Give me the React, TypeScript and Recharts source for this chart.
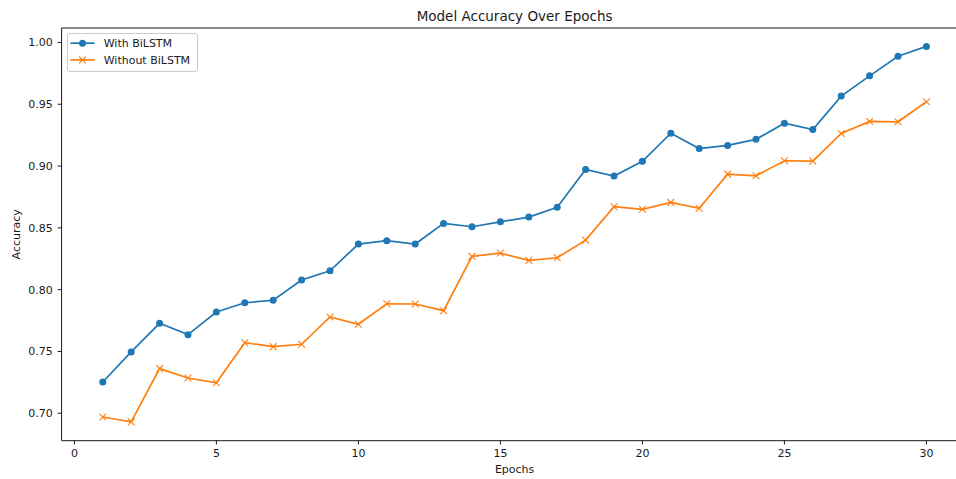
import React from 'react';
import { LineChart, Line, XAxis, YAxis, Legend, ReferenceLine } from 'recharts';

const epochs = [1, 2, 3, 4, 5, 6, 7, 8, 9, 10, 11, 12, 13, 14, 15, 16, 17, 18, 19, 20, 21, 22, 23, 24, 25, 26, 27, 28, 29, 30];
const withBiLSTM = [0.7253, 0.7496, 0.7728, 0.7636, 0.7819, 0.7894, 0.7914, 0.8078, 0.8153, 0.8369, 0.8396, 0.8369, 0.8536, 0.8509, 0.8549, 0.8587, 0.8666, 0.8973, 0.8919, 0.9038, 0.9266, 0.9142, 0.9167, 0.9216, 0.9347, 0.9296, 0.9566, 0.973, 0.9889, 0.9968];
const withoutBiLSTM = [0.697, 0.693, 0.7361, 0.7285, 0.7247, 0.7571, 0.7539, 0.7558, 0.7779, 0.772, 0.7886, 0.7884, 0.783, 0.8269, 0.8296, 0.8237, 0.8258, 0.8401, 0.8671, 0.865, 0.8706, 0.8658, 0.8935, 0.8921, 0.9043, 0.904, 0.9264, 0.9361, 0.9358, 0.952];
const xTicks = [0, 5, 10, 15, 20, 25, 30];
const yTicks = [0.7, 0.75, 0.8, 0.85, 0.9, 0.95, 1.0];
const seriesNames = ['With BiLSTM', 'Without BiLSTM'];
const chartTitle = 'Model Accuracy Over Epochs';
const xLabel = 'Epochs';
const yLabel = 'Accuracy';

const BLUE = '#1f77b4';
const ORANGE = '#ff7f0e';
const FONT = "'DejaVu Sans', sans-serif";
const TEXT = '#1a1a1a';
const FS = 11;
const X_DOMAIN: [number, number] = [-0.45, 31.45];
const Y_DOMAIN: [number, number] = [0.6778, 1.0117];

const data = epochs.map((e, i) => ({ epoch: e, withB: withBiLSTM[i], withoutB: withoutBiLSTM[i] }));

const XMark = (props: any) => {
  const { cx, cy, stroke, size = 3.4, index } = props;
  if (cx == null || cy == null) return <g key={`x-${index}`} />;
  return (
    <g key={`x-${index}`}>
      <line x1={cx - size} y1={cy - size} x2={cx + size} y2={cy + size} stroke={stroke} strokeWidth={1.1} />
      <line x1={cx - size} y1={cy + size} x2={cx + size} y2={cy - size} stroke={stroke} strokeWidth={1.1} />
    </g>
  );
};

const LegendBox = () => (
  <svg width={132} height={40} style={{ display: 'block', overflow: 'visible' }}>
    <rect x={0.5} y={0.5} width={130} height={38} rx={2.5} ry={2.5} fill="#ffffff" fillOpacity={0.8} stroke="#cccccc" strokeWidth={1} />
    {seriesNames.map((name, i) => {
      const cy = 10.2 + i * 16.7;
      const color = i === 0 ? BLUE : ORANGE;
      return (
        <g key={name}>
          <line x1={3.4} x2={27.7} y1={cy} y2={cy} stroke={color} strokeWidth={1.7} />
          {i === 0 ? (
            <circle cx={15.5} cy={cy} r={3.5} fill={color} />
          ) : (
            <XMark cx={15.5} cy={cy} stroke={color} index={0} />
          )}
          <text x={36.7} y={cy} dy="0.36em" fontSize={FS} fontFamily={FONT} fill={TEXT}>
            {name}
          </text>
        </g>
      );
    })}
  </svg>
);

const YLabel = (props: any) => {
  const vb = props.viewBox || { x: 0, y: 28, width: 61.6, height: 412.7 };
  const cx = vb.x + 20.2;
  const cy = vb.y + vb.height / 2;
  return (
    <text x={cx} y={cy} transform={`rotate(-90, ${cx}, ${cy})`} textAnchor="middle" fontSize={FS} fontFamily={FONT} fill={TEXT}>
      {yLabel}
    </text>
  );
};

export default function App() {
  return (
    <div style={{ position: 'absolute', left: 0, top: 0, width: 956, height: 479, overflow: 'hidden', background: '#fff' }}>
      <LineChart
        width={970}
        height={479}
        data={data}
        margin={{ top: 28, right: 2.4, bottom: 0, left: 0 }}
        style={{ fontFamily: FONT }}
      >
        <XAxis
          dataKey="epoch"
          type="number"
          domain={X_DOMAIN}
          allowDataOverflow
          ticks={xTicks}
          height={38.3}
          tickSize={3.9}
          tickMargin={4.7}
          axisLine={{ stroke: '#000', strokeWidth: 0.9 }}
          tickLine={{ stroke: '#000', strokeWidth: 0.9 }}
          tick={{ fontSize: FS, fill: TEXT, fontFamily: FONT }}
          label={{ value: xLabel, position: 'insideBottom', offset: 6.5, fontSize: FS, fill: TEXT, fontFamily: FONT }}
        />
        <YAxis
          type="number"
          domain={Y_DOMAIN}
          allowDataOverflow
          ticks={yTicks}
          width={61.6}
          tickSize={3.9}
          tickMargin={5}
          tickFormatter={(v: number) => v.toFixed(2)}
          axisLine={{ stroke: '#000', strokeWidth: 0.9 }}
          tickLine={{ stroke: '#000', strokeWidth: 0.9 }}
          tick={{ fontSize: FS, fill: TEXT, fontFamily: FONT }}
          label={(p: any) => <YLabel {...p} />}
        />
        <ReferenceLine
          y={Y_DOMAIN[1]}
          stroke="#000"
          strokeWidth={0.9}
          ifOverflow="visible"
          label={{ value: chartTitle, position: 'top', offset: 7.3, fontSize: 13.5, fill: TEXT, fontFamily: FONT }}
        />
        <Line
          type="linear"
          dataKey="withB"
          name={seriesNames[0]}
          stroke={BLUE}
          strokeWidth={1.7}
          dot={{ r: 3.5, fill: BLUE, stroke: BLUE, strokeWidth: 0 }}
          activeDot={false}
          isAnimationActive={false}
        />
        <Line
          type="linear"
          dataKey="withoutB"
          name={seriesNames[1]}
          stroke={ORANGE}
          strokeWidth={1.7}
          dot={(p: any) => <XMark key={`xm-${p.index}`} {...p} stroke={ORANGE} />}
          activeDot={false}
          isAnimationActive={false}
        />
        <Legend
          layout="vertical"
          align="center"
          verticalAlign="middle"
          content={() => <LegendBox />}
          wrapperStyle={{ left: 67, top: 33, width: 132, height: 40 }}
        />
      </LineChart>
    </div>
  );
}
